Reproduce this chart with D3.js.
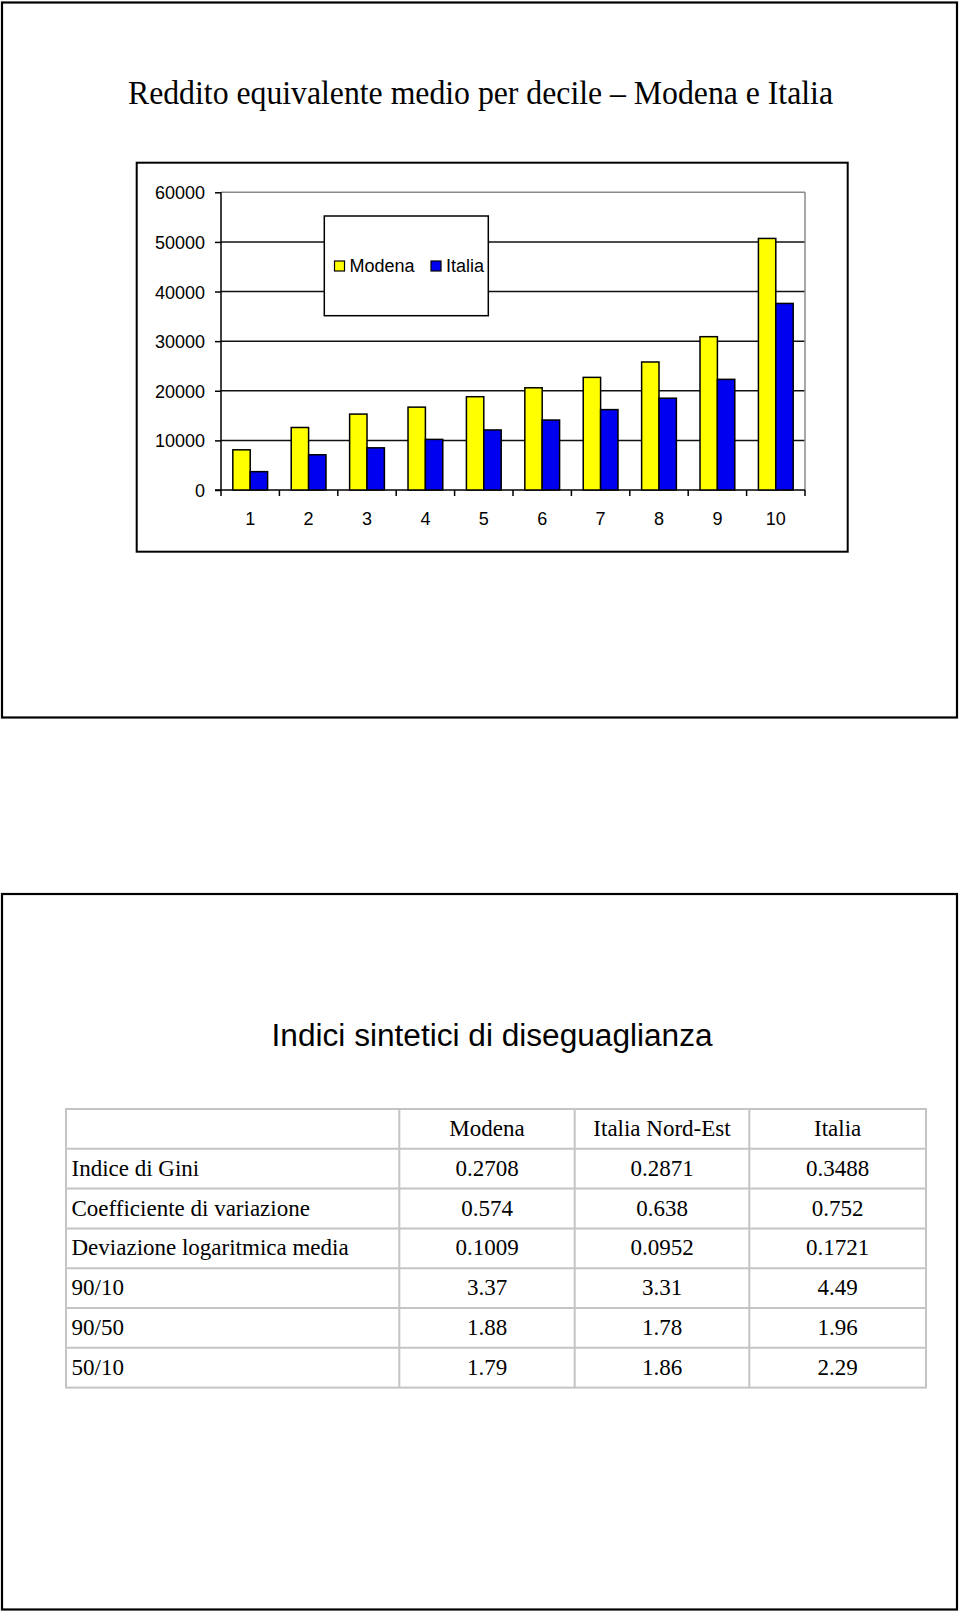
<!DOCTYPE html>
<html>
<head>
<meta charset="utf-8">
<script src="https://cdn.jsdelivr.net/npm/d3@7"></script>
<style>
  html, body { margin: 0; padding: 0; background: #fff; }
  svg { display: block; }
</style>
</head>
<body>
<div id="chart"></div>
<script>
// ---------- data ----------
const deciles = ["1", "2", "3", "4", "5", "6", "7", "8", "9", "10"];
const seriesNames = ["Modena", "Italia"];
const modena = [8100, 12600, 15300, 16700, 18800, 20600, 22700, 25800, 30900, 50700];
const italia = [3700, 7100, 8500, 10200, 12100, 14100, 16200, 18500, 22300, 37600];
const yTicks = [0, 10000, 20000, 30000, 40000, 50000, 60000];
const seriesColors = ["#ffff00", "#0000f0"];

const chartTitle = "Reddito equivalente medio per decile \u2013 Modena e Italia";
const tableTitle = "Indici sintetici di diseguaglianza";
const tableColumns = ["Modena", "Italia Nord-Est", "Italia"];
const rowLabels = ["Indice di Gini", "Coefficiente di variazione", "Deviazione logaritmica media", "90/10", "90/50", "50/10"];
const colModena = ["0.2708", "0.574", "0.1009", "3.37", "1.88", "1.79"];
const colNordEst = ["0.2871", "0.638", "0.0952", "3.31", "1.78", "1.86"];
const colItalia = ["0.3488", "0.752", "0.1721", "4.49", "1.96", "2.29"];

// ---------- svg ----------
const W = 960, H = 1614;
const svg = d3.select("#chart").append("svg").attr("width", W).attr("height", H);
svg.append("rect").attr("width", W).attr("height", H).attr("fill", "#fff");

// slide frames
function frame(y0, y1) {
  svg.append("rect").attr("x", 2).attr("y", y0).attr("width", 955).attr("height", y1 - y0)
    .attr("fill", "none").attr("stroke", "#000").attr("stroke-width", 2.2);
}
frame(2.5, 717.5);
frame(894, 1609.5);

// title
svg.append("text").attr("x", 128).attr("y", 103.5)
  .attr("font-family", "'Liberation Serif', 'Times New Roman', serif")
  .attr("font-size", 33).attr("fill", "#000")
  .attr("textLength", 705).attr("lengthAdjust", "spacingAndGlyphs")
  .text(chartTitle);

// chart box
svg.append("rect").attr("x", 136.7).attr("y", 162.7).attr("width", 711).attr("height", 389)
  .attr("fill", "#fff").attr("stroke", "#000").attr("stroke-width", 2);

const plotL = 221, plotR = 805, plotT = 192.3, plotB = 490;
const x = d3.scaleBand().domain(deciles).range([plotL, plotR]).paddingInner(0).paddingOuter(0);
const xs = d3.scaleBand().domain(seriesNames).range([0, x.bandwidth()]).paddingInner(0).paddingOuter(0.68);
const y = d3.scaleLinear().domain([0, 60000]).range([plotB, plotT]);
const font = "'Liberation Sans', Arial, sans-serif";

const g = svg.append("g");

// gridlines
g.selectAll("line.grid").data(yTicks.filter(d => d > 0)).join("line")
  .attr("class", "grid")
  .attr("x1", plotL).attr("x2", plotR)
  .attr("y1", d => y(d)).attr("y2", d => y(d))
  .attr("stroke", d => d === 60000 ? "#8a8a8a" : "#111")
  .attr("stroke-width", 1.5);
// back wall right edge
g.append("line").attr("x1", plotR).attr("x2", plotR).attr("y1", y(60000)).attr("y2", y(0))
  .attr("stroke", "#8a8a8a").attr("stroke-width", 1.5);

// y axis
const yAxis = d3.axisLeft(y).tickValues(yTicks).tickSize(6).tickPadding(10).tickFormat(d3.format("d"));
const yg = g.append("g").attr("transform", `translate(${plotL},0)`).call(yAxis);
yg.select(".domain").attr("stroke", "#000").attr("stroke-width", 1.5).attr("d", `M0,${y(60000)}V${y(0)}`);
yg.selectAll(".tick line").attr("stroke", "#000").attr("stroke-width", 1.5);
yg.selectAll(".tick text").attr("font-family", font).attr("font-size", 18).attr("fill", "#000")
  .attr("dy", "0.36em");

// x axis with boundary ticks
const xg = g.append("g").attr("transform", `translate(0,${plotB})`);
const bounds = deciles.map(d => x(d)).concat([plotR]);
xg.append("line").attr("x1", plotL - 6).attr("x2", plotR).attr("y1", 0).attr("y2", 0)
  .attr("stroke", "#000").attr("stroke-width", 1.5);
xg.selectAll("line.bt").data(bounds).join("line").attr("class", "bt")
  .attr("x1", d => d).attr("x2", d => d).attr("y1", 0).attr("y2", 6)
  .attr("stroke", "#000").attr("stroke-width", 1.5);
xg.selectAll("text").data(deciles).join("text")
  .attr("x", d => x(d) + x.bandwidth() / 2).attr("y", 35)
  .attr("text-anchor", "middle").attr("font-family", font).attr("font-size", 18).attr("fill", "#000")
  .text(d => d);

// bars
const seriesData = [modena, italia];
seriesNames.forEach((s, si) => {
  g.selectAll(`rect.bar${si}`).data(deciles).join("rect")
    .attr("class", `bar${si}`)
    .attr("x", d => x(d) + xs(s))
    .attr("width", xs.bandwidth())
    .attr("y", (d, i) => y(seriesData[si][i]))
    .attr("height", (d, i) => y(0) - y(seriesData[si][i]))
    .attr("fill", seriesColors[si]).attr("stroke", "#000").attr("stroke-width", 1.5);
});

// legend
const lg = svg.append("g");
lg.append("rect").attr("x", 324.3).attr("y", 216).attr("width", 164).attr("height", 99.7)
  .attr("fill", "#fff").attr("stroke", "#000").attr("stroke-width", 1.5);
const legX = [334.5, 431];
seriesNames.forEach((s, i) => {
  lg.append("rect").attr("x", legX[i]).attr("y", 261).attr("width", 10).attr("height", 10)
    .attr("fill", seriesColors[i]).attr("stroke", "#000").attr("stroke-width", 1.2);
  lg.append("text").attr("x", legX[i] + 15).attr("y", 272).attr("font-family", font)
    .attr("font-size", 18).attr("fill", "#000").text(s);
});

// ---------- table slide ----------
svg.append("text").attr("x", 271.6).attr("y", 1046)
  .attr("font-family", font).attr("font-size", 31).attr("fill", "#000")
  .attr("textLength", 441).attr("lengthAdjust", "spacingAndGlyphs")
  .text(tableTitle);

const colEdges = [66, 399.3, 574.7, 749.3, 926];
const rowTop = 1109, rowH = 39.8;
const nRows = rowLabels.length + 1;
const rowScale = d3.scaleLinear().domain([0, nRows]).range([rowTop, rowTop + nRows * rowH]);
const tg = svg.append("g");
tg.append("rect").attr("x", colEdges[0]).attr("y", rowScale(0))
  .attr("width", colEdges[4] - colEdges[0]).attr("height", rowScale(nRows) - rowScale(0))
  .attr("fill", "#fff").attr("stroke", "#c4c4c4").attr("stroke-width", 2);
tg.selectAll("line.h").data(d3.range(1, nRows)).join("line").attr("class", "h")
  .attr("x1", colEdges[0]).attr("x2", colEdges[4])
  .attr("y1", d => rowScale(d)).attr("y2", d => rowScale(d))
  .attr("stroke", "#c4c4c4").attr("stroke-width", 2);
tg.selectAll("line.v").data(colEdges.slice(1, 4)).join("line").attr("class", "v")
  .attr("x1", d => d).attr("x2", d => d)
  .attr("y1", rowScale(0)).attr("y2", rowScale(nRows))
  .attr("stroke", "#c4c4c4").attr("stroke-width", 2);

const serif = "'Liberation Serif', 'Times New Roman', serif";
const tfs = 23;
// header
tableColumns.forEach((c, i) => {
  tg.append("text").attr("x", (colEdges[i + 1] + colEdges[i + 2]) / 2).attr("y", rowScale(0) + 27)
    .attr("text-anchor", "middle").attr("font-family", serif).attr("font-size", tfs).attr("fill", "#000").text(c);
});
const cols = [colModena, colNordEst, colItalia];
rowLabels.forEach((r, ri) => {
  const yy = rowScale(ri + 1) + 27;
  tg.append("text").attr("x", colEdges[0] + 5.5).attr("y", yy)
    .attr("font-family", serif).attr("font-size", tfs).attr("fill", "#000").text(r);
  cols.forEach((col, ci) => {
    tg.append("text").attr("x", (colEdges[ci + 1] + colEdges[ci + 2]) / 2).attr("y", yy)
      .attr("text-anchor", "middle").attr("font-family", serif).attr("font-size", tfs).attr("fill", "#000")
      .text(col[ri]);
  });
});
</script>
</body>
</html>
